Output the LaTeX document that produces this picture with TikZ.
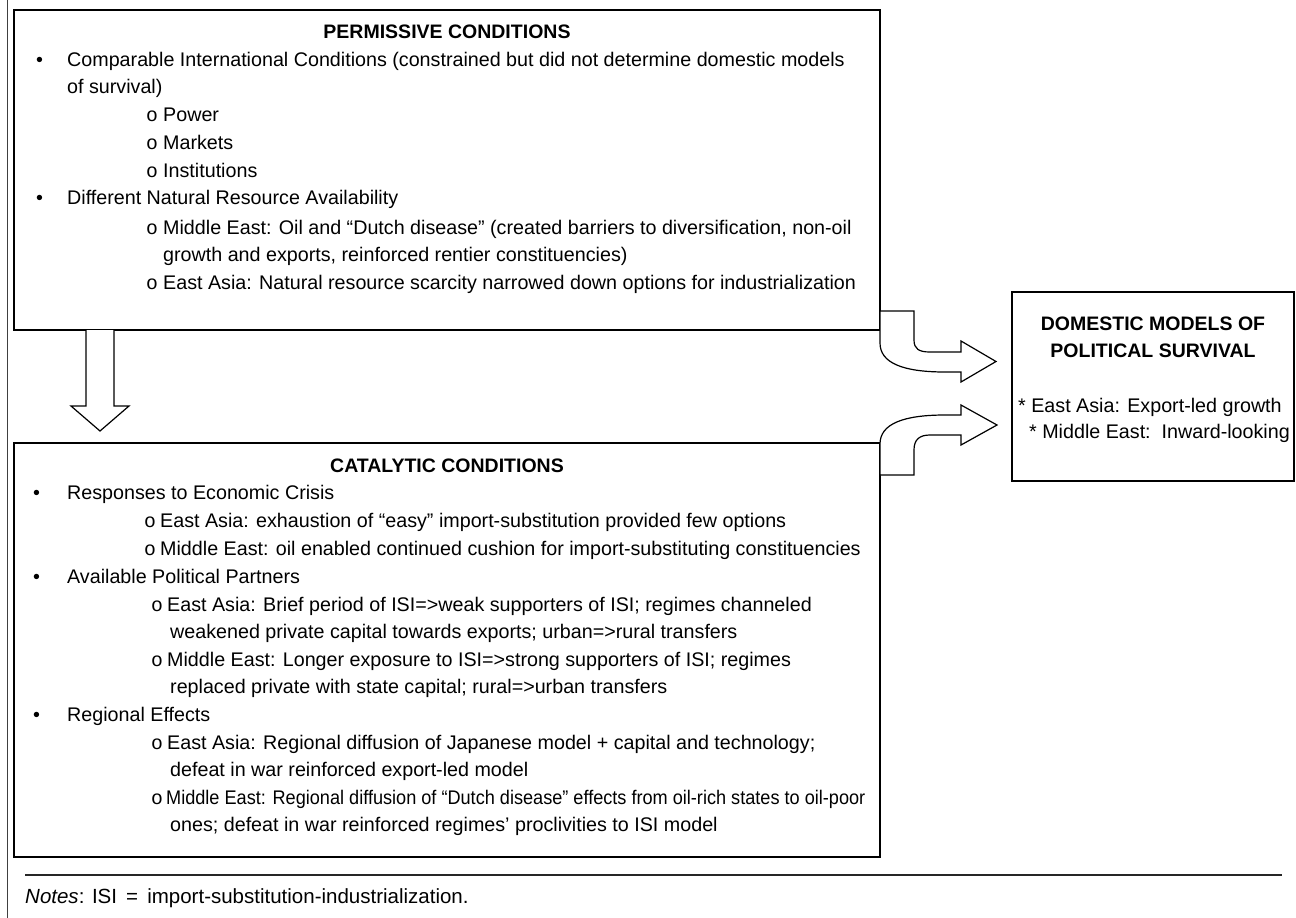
\documentclass[tikz,border=0pt]{standalone}
\usepackage{graphicx}
\usepackage{fontspec}
\setmainfont{Liberation Sans}
\newfontfamily\monof{Liberation Mono}
\begin{document}
\begin{tikzpicture}[x=1pt,y=-1pt,
  txt/.style={font=\fontsize{19.7}{24}\selectfont, inner sep=0pt, anchor=base west},
  hd/.style={font=\fontsize{19.5}{24}\selectfont\bfseries, inner sep=0pt, anchor=base},
  box/.style={draw=black, line width=1.3pt},
  barrow/.style={draw=black, line width=1.2pt, fill=white, line join=miter}]
\useasboundingbox (0,0) rectangle (1296,918);
% outer left line
\draw[line width=1.2pt, draw=black!75] (7.5,0) -- (7.5,918);
% boxes
\draw[box] (14,10) rectangle (880,330);
\draw[box] (14,443) rectangle (880,857);
\draw[box] (1012,292) rectangle (1294,481);
% down block arrow
\draw[barrow] (86,330) -- (86,406) -- (71,406) -- (100,431) -- (129,406) -- (114,406) -- (114,330);
% upper curved arrow
\draw[barrow] (880,311) -- (914,311) -- (914,340) .. controls (914,349) and (919,352) .. (930,352) -- (961,352) -- (961,341) -- (996,361.5) -- (961,382) -- (961,372) -- (945,372) .. controls (903,372) and (880,363) .. (880,343) -- cycle;
% lower curved arrow
\draw[barrow] (880,475) -- (914,475) -- (914,450) .. controls (914,440) and (919,435) .. (930,435) -- (961,435) -- (961,445) -- (997,425) -- (961,405) -- (961,415) -- (945,415) .. controls (903,415) and (880,424) .. (880,444) -- cycle;
% permissive
\node[hd] (ph) at (447,38) {PERMISSIVE CONDITIONS};
\node[txt] (pb1) at (36,66) {•};
\node[txt] (p1) at (67,66) {Comparable International Conditions (constrained but did not determine domestic models};
\node[txt] (p2) at (67,93) {of survival)};
\node[txt] (pc1) at (146,121) {\monof o};
\node[txt] (p3) at (163,121) {Power};
\node[txt] (pc2) at (146,149) {\monof o};
\node[txt] (p4) at (163,149) {Markets};
\node[txt] (pc3) at (146,177) {\monof o};
\node[txt] (p5) at (163,177) {Institutions};
\node[txt] (pb2) at (36,204) {•};
\node[txt] (p6) at (67,204) {Different Natural Resource Availability};
\node[txt] (pc4) at (146,234) {\monof o};
\node[txt] (p7) at (163,234) {Middle East: Oil and “Dutch disease” (created barriers to diversification, non-oil};
\node[txt] (p8) at (163,261) {growth and exports, reinforced rentier constituencies)};
\node[txt] (pc5) at (146,289) {\monof o};
\node[txt] (p9) at (163,289) {East Asia: Natural resource scarcity narrowed down options for industrialization};
% catalytic
\node[hd] (ch) at (447,472) {CATALYTIC CONDITIONS};
\node[txt] (cb1) at (33,499) {•};
\node[txt] (c1) at (67,499) {Responses to Economic Crisis};
\node[txt] (cc1) at (144,527) {\monof o};
\node[txt] (c2) at (160,527) {East Asia: exhaustion of “easy” import-substitution provided few options};
\node[txt] (cc2) at (144,555) {\monof o};
\node[txt] (c3) at (160,555) {Middle East: oil enabled continued cushion for import-substituting constituencies};
\node[txt] (cb2) at (33,583) {•};
\node[txt] (c4) at (67,583) {Available Political Partners};
\node[txt] (cc3) at (151,611) {\monof o};
\node[txt] (c5) at (167,611) {East Asia: Brief period of ISI=>weak supporters of ISI; regimes channeled};
\node[txt] (c6) at (170,638) {weakened private capital towards exports; urban=>rural transfers};
\node[txt] (cc4) at (151,666) {\monof o};
\node[txt] (c7) at (167,666) {Middle East: Longer exposure to ISI=>strong supporters of ISI; regimes};
\node[txt] (c8) at (170,693) {replaced private with state capital; rural=>urban transfers};
\node[txt] (cb3) at (33,721) {•};
\node[txt] (c9) at (67,721) {Regional Effects};
\node[txt] (cc5) at (151,749) {\monof o};
\node[txt] (c10) at (167,749) {East Asia: Regional diffusion of Japanese model + capital and technology;};
\node[txt] (c11) at (170,776) {defeat in war reinforced export-led model};
\node[txt] (cc6) at (151,804) {\monof o};
\node[txt] (c12) at (166,804) {\scalebox{0.92}[1]{Middle East: Regional diffusion of “Dutch disease” effects from oil-rich states to oil-poor}};
\node[txt] (c13) at (170,831) {ones; defeat in war reinforced regimes’ proclivities to ISI model};
% domestic models
\node[hd] (dh1) at (1153,330) {DOMESTIC MODELS OF};
\node[hd] (dh2) at (1153,357) {POLITICAL SURVIVAL};
\node[txt] (d1) at (1018,412) {* East Asia: Export-led growth};
\node[txt] (d2) at (1029,438) {* Middle East:\ \ Inward-looking};
% notes
\draw[line width=1.6pt, draw=black!85] (25,875) -- (1282,875);
\node[txt, font=\fontsize{20.5}{22}\selectfont] (nt) at (25,903) {\textit{Notes}: ISI \,=\, import-substitution-industrialization.};
\end{tikzpicture}
\end{document}
